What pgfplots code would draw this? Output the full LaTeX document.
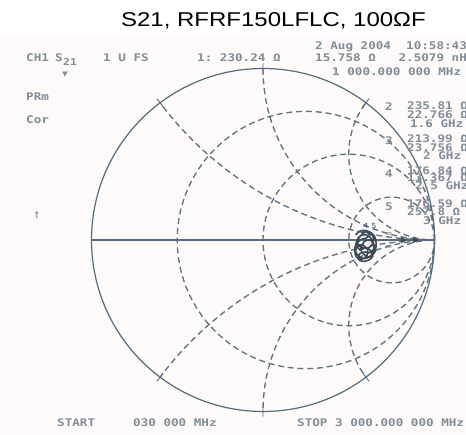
\documentclass[border=0pt]{standalone}
\usepackage{pgfplots}
\pgfplotsset{compat=1.18}
\usepackage{fontspec}
\setmainfont{Liberation Sans}
\newfontfamily\hpfont[FakeStretch=1.2]{DejaVu Sans Mono}
\newfontfamily\titlefont[FakeStretch=1.2]{Liberation Sans}
\newfontfamily\symfont{DejaVu Sans}

\definecolor{hpline}{RGB}{86,108,124}
\definecolor{hpgrid}{RGB}{98,114,127}
\definecolor{hptext}{RGB}{128,140,150}
\definecolor{hptrace}{RGB}{62,74,86}
\definecolor{screen}{RGB}{253,250,249}

\tikzset{grid line/.style={hpgrid, line width=1.35pt, dash pattern=on 6pt off 3.8pt}}

% text of the analyser screen, placed in pixel coordinates (x, y from top)
\newcommand{\hp}[3]{\node[anchor=base west, inner sep=0pt, text=hptext,
  font=\hpfont\bfseries\fontsize{10.5}{10.5}\selectfont] at ({#1},{435-#2-4}) {#3};}

\begin{document}
\begin{tikzpicture}[x=1pt,y=1pt]
\path[use as bounding box] (0,0) rectangle (466,435);
\fill[screen] (0,0) rectangle (466,400);

\begin{axis}[
    at={(0,0)}, anchor=south west,
    width=466pt, height=435pt, scale only axis,
    xmin=-1.53353, xmax=1.18367,
    ymin=-1.13703, ymax=1.39942,
    axis lines=none, ticks=none, clip=false,
  ]
% resistance circles r = 1/3, 1, 3
\draw[grid line] (axis cs:0.25,0) circle[radius=0.75];
\draw[grid line] (axis cs:0.5,0) circle[radius=0.5];
\draw[grid line] (axis cs:0.75,0) circle[radius=0.25];
% reactance arcs x = +-1/2, +-1, +-2
\begin{scope}
\clip (axis cs:0,0) circle[radius=1];
\draw[grid line] (axis cs:1,2) circle[radius=2];
\draw[grid line] (axis cs:1,-2) circle[radius=2];
\draw[grid line] (axis cs:1,1) circle[radius=1];
\draw[grid line] (axis cs:1,-1) circle[radius=1];
\draw[grid line] (axis cs:1,0.5) circle[radius=0.5];
\draw[grid line] (axis cs:1,-0.5) circle[radius=0.5];
\end{scope}
% outer circle, real axis and the small ticks where the arcs end
\draw[hpline, line width=1.2pt] (axis cs:0,0) circle[radius=1];
\draw[hpline, line width=1.1pt] (axis cs:-1,0) -- (axis cs:1,0);
\draw[hpline, line width=0.9pt]
  (axis cs:-0.582,0.776) -- (axis cs:-0.618,0.824)
  (axis cs:0,0.97) -- (axis cs:0,1.03)
  (axis cs:0.582,0.776) -- (axis cs:0.618,0.824)
  (axis cs:-0.582,-0.776) -- (axis cs:-0.618,-0.824)
  (axis cs:0,-0.97) -- (axis cs:0,-1.03)
  (axis cs:0.582,-0.776) -- (axis cs:0.618,-0.824);

% S21 trace, a tight tangle of loops
\addplot[hptrace, line width=1.6pt, smooth] coordinates {
  (0.540,0.030) (0.565,0.052) (0.600,0.055) (0.630,0.040) (0.645,0.008)
  (0.637,-0.028) (0.607,-0.048) (0.572,-0.044) (0.550,-0.018) (0.555,0.012)
  (0.580,0.030) (0.615,0.025) (0.640,-0.008) (0.650,-0.050) (0.632,-0.088)
  (0.598,-0.108) (0.562,-0.098) (0.540,-0.066) (0.550,-0.035) (0.580,-0.028)
  (0.610,-0.058) (0.605,-0.093) (0.575,-0.113) (0.545,-0.100) (0.535,-0.060)
  (0.548,-0.005) (0.585,0.040) (0.620,0.048) (0.650,0.022) (0.660,-0.020)
  (0.652,-0.070) (0.620,-0.100) (0.585,-0.080) (0.570,-0.055) (0.590,-0.010)
  (0.625,0.000) (0.648,-0.040) (0.630,-0.072) (0.595,-0.070) (0.565,-0.080)
  (0.555,-0.110) (0.580,-0.125) (0.615,-0.118) (0.640,-0.095) (0.625,-0.060)
  (0.600,-0.045) (0.565,-0.058) (0.548,-0.030) (0.565,0.000) (0.598,0.010)
  (0.625,0.030) (0.605,0.048) (0.575,0.040)
};
% markers on the real axis
\addplot[only marks, mark=triangle*, mark size=3.2pt, hptrace,
  mark options={rotate=-90}] coordinates {(0.816,0) (0.886,0)};
\end{axis}

% title
\node[anchor=base, inner sep=0pt, font=\titlefont\fontsize{20}{20}\selectfont]
  at (273.5,{435-27}) {S21, RFRF150LFLC, 100ΩF};

% analyser annotations
\hp{26}{58}{CH1}
\hp{55}{58}{S}
\hp{63}{62}{\fontsize{9.5}{9.5}\selectfont 21}
\hp{103}{58}{1~U~FS}
\hp{197}{58}{1:~230.24~Ω}
\hp{315}{46}{2~Aug~2004~~10:58:43}
\hp{315}{58}{15.758~Ω~~~2.5079~nH}
\hp{332}{72}{1~000.000~000~MHz}
\node[text=hptext, inner sep=0pt, font=\symfont\fontsize{7}{7}\selectfont]
  at (65,{435-75}) {▼};
\hp{26}{97}{PRm}
\hp{26}{120}{Cor}
\node[text=hptext, inner sep=0pt, font=\symfont\bfseries\fontsize{9}{9}\selectfont]
  at (37,{435-215}) {↑};

\hp{385}{107}{2}
\hp{407}{106}{235.81~Ω}
\hp{407}{115}{22.766~Ω}
\hp{410}{124}{1.6~GHz}
\hp{385}{141}{3}
\hp{407}{139}{213.99~Ω}
\hp{407}{148}{23.756~Ω}
\hp{423}{156}{2~GHz}
\hp{385}{174}{4}
\hp{407}{171}{176.84~Ω}
\hp{407}{178}{13.367~Ω}
\hp{415}{186}{2.5~GHz}
\hp{385}{207}{5}
\hp{407}{204}{176.59~Ω}
\hp{407}{212}{257.8~Ω}
\hp{423}{221}{3~GHz}

% marker labels near the trace
\node[text=hptrace, inner sep=0pt, font=\hpfont\fontsize{7}{7}\selectfont] at (374,{435-226}) {5};
\node[text=hptrace, inner sep=0pt, font=\hpfont\fontsize{7}{7}\selectfont] at (366,{435-226}) {4};
\node[text=hptext, inner sep=0pt, font=\symfont\fontsize{9}{9}\selectfont] at (389,{435-234}) {=};
\node[text=hptext, inner sep=0pt, font=\symfont\fontsize{9}{9}\selectfont] at (389,{435-247}) {=};

\hp{57}{423}{START}
\hp{133}{423}{030~000~MHz}
\hp{297}{423}{STOP~3~000.000~000~MHz}
\end{tikzpicture}
\end{document}
